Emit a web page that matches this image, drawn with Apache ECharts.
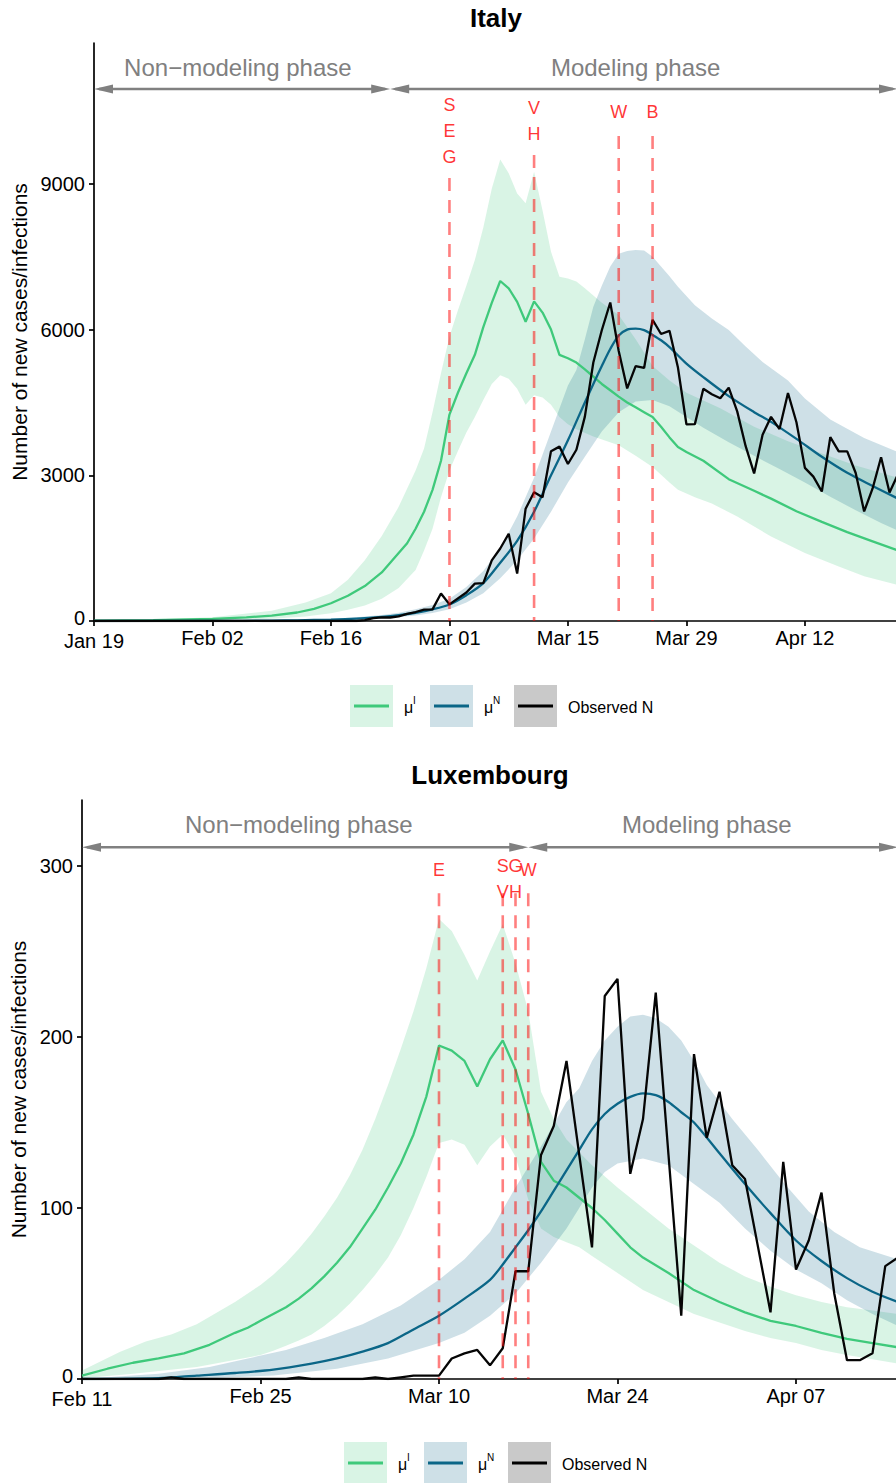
<!DOCTYPE html>
<html><head><meta charset="utf-8">
<script src="https://cdn.jsdelivr.net/npm/echarts@6/dist/echarts.min.js"></script>
<style>html,body{margin:0;padding:0;background:#fff}#c{width:896px;height:1483px}</style>
</head><body><div id="c"></div>
<script>
// ================= ITALY (day 0 = Jan 19, 2020) =================
const italyXTicks = ['Jan 19','Feb 02','Feb 16','Mar 01','Mar 15','Mar 29','Apr 12'];
const italyYTicks = [0, 3000, 6000, 9000];
// observed new cases, one value per day starting at day 0
const italyObs = [0,0,0,0,0,0,0,0,0,0,0,0,2,0,0,0,0,0,0,1,0,0,0,0,0,0,0,0,0,0,0,0,
  17,59,76,72,94,147,185,234,240,566,342,466,587,769,778,1247,1492,1797,977,2313,2651,2547,
  3497,3590,3233,3526,4207,5322,5986,6557,5560,4789,5249,5210,6203,5909,5974,5217,4050,4053,
  4782,4668,4585,4805,4316,3599,3039,3836,4204,3951,4694,4092,3153,2972,2667,3786,3493,3491,
  3047,2256,2729,3370,2646,3021];
// mu^I : [day, value]
const italyMuI = [[0,5],[7,15],[14,45],[18,75],[21,110],[24,175],[26,250],[28,365],[30,520],[32,720],[34,1000],[36,1400],[37,1600],[38,1900],[39,2250],[40,2700],[41,3300],[42,4250],[43,4700],[44,5100],[45,5480],[46,6050],[47,6550],[48,7000],[49,6850],[50,6570],[51,6160],[52,6580],[53,6350],[54,6000],[55,5480],[56,5410],[57,5320],[58,5180],[59,5030],[60,4880],[61,4750],[62,4620],[63,4500],[64,4400],[65,4300],[66,4200],[67,4000],[68,3780],[69,3580],[70,3480],[72,3300],[75,2920],[78,2680],[80,2520],[83,2260],[86,2040],[89,1830],[92,1640],[95,1450]];
const italyMuIUpper = [[0,10],[7,30],[14,75],[21,210],[25,380],[28,570],[30,850],[32,1250],[34,1750],[36,2350],[38,3100],[39,3550],[40,4300],[41,5100],[42,5850],[43,6400],[44,6900],[45,7430],[46,8100],[47,8900],[48,9500],[49,9220],[50,8800],[51,8600],[52,9250],[53,8450],[54,7600],[55,7090],[56,7050],[57,6990],[58,6850],[59,6700],[60,6550],[62,6300],[64,5800],[66,5250],[68,4950],[70,4700],[74,4380],[78,4000],[82,3700],[86,3450],[90,3200],[95,2950]];
const italyMuILower = [[0,1],[7,4],[14,12],[21,45],[25,95],[28,160],[30,230],[32,320],[34,460],[36,680],[38,1050],[39,1450],[40,1900],[41,2550],[42,3100],[43,3500],[44,3880],[45,4200],[46,4550],[47,4880],[48,5060],[49,4990],[50,4780],[51,4450],[52,4650],[53,4600],[54,4450],[55,4200],[56,4050],[57,3950],[59,3800],[62,3620],[64,3400],[66,3170],[68,2850],[69,2700],[71,2550],[73,2420],[76,2150],[80,1740],[84,1400],[88,1120],[91,920],[95,740]];
// mu^N
const italyMuN = [[0,0],[14,2],[21,8],[24,14],[28,30],[31,50],[34,85],[36,120],[38,170],[40,240],[42,340],[44,530],[46,780],[48,1200],[50,1650],[52,2250],[54,3000],[56,3720],[58,4500],[59,4880],[60,5250],[61,5600],[62,5880],[63,6000],[64,6020],[65,5990],[66,5890],[67,5780],[68,5640],[70,5300],[72,5020],[75,4630],[78,4300],[80,4100],[83,3750],[86,3380],[89,3050],[92,2780],[95,2520]];
const italyMuNUpper = [[0,0],[14,5],[21,15],[28,45],[31,75],[34,125],[36,170],[38,240],[40,330],[42,460],[44,700],[46,1030],[48,1500],[50,2150],[52,2950],[54,3900],[56,4850],[57,5170],[58,5800],[59,6470],[60,6900],[61,7300],[62,7560],[63,7620],[64,7640],[65,7630],[66,7500],[67,7300],[68,7100],[69,6880],[71,6500],[73,6230],[75,5990],[77,5650],[79,5330],[82,4950],[84,4580],[87,4150],[91,3770],[95,3480]];
const italyMuNLower = [[0,0],[14,1],[21,4],[28,18],[31,30],[34,55],[36,80],[38,115],[40,165],[42,240],[44,380],[46,570],[48,880],[50,1250],[52,1700],[54,2250],[56,2850],[58,3380],[60,3900],[62,4300],[64,4520],[66,4550],[68,4420],[70,4200],[72,3980],[75,3680],[78,3400],[81,3130],[84,2850],[87,2560],[90,2280],[93,2020],[95,1860]];
const italyEventDays = [42, 52, 62, 66];
const italyEventLabels = ['S\nE\nG', 'V\nH', 'W', 'B'];
const italyPhaseDays = [0, 35, 95];          // start, split, end
const italyPhaseTexts = ['Non\u2212modeling phase', 'Modeling phase'];

// ================= LUXEMBOURG (day 0 = Feb 11, 2020) =================
const luxXTicks = ['Feb 11','Feb 25','Mar 10','Mar 24','Apr 07'];
const luxYTicks = [0, 100, 200, 300];
const luxObs = [0,0,0,0,0,0,0,1,0,0,0,0,0,0,0,0,0,1,0,0,0,0,0,1,0,1,2,2,2,
  12,15,17,8,18,63,63,131,148,186,131,77,224,234,120,152,226,131,37,190,141,168,125,117,78,39,
  127,64,81,109,50,11,11,15,66,71];
const luxMuI = [[0,2],[2,6],[4,9.5],[6,12],[8,15],[10,20],[12,27],[13,30],[14,34],[15,38],[16,42],[17,47],[18,53],[19,60],[20,68],[21,77],[22,88],[23,99],[24,112],[25,126],[26,143],[27,165],[28,195],[29,192],[30,186],[31,171],[32,187],[33,198],[34,181],[35,155],[36,127],[37,116],[38,112],[39,106],[40,100],[41,93],[42,85],[43,77],[44,71],[46,62],[48,52],[50,45],[52,39],[54,34],[56,31],[58,27],[60,23.5],[62,21],[64,18.5]];
const luxMuIUpper = [[0,5],[3,16],[5,22],[7,26],[9,32],[12,45],[14,55],[15,61],[16,68],[17,76],[18,85],[19,95],[20,106],[21,119],[22,134],[23,152],[24,172],[25,193],[26,215],[27,240],[28,269],[29,262],[30,248],[31,233],[32,250],[33,266],[34,243],[35,215],[36,168],[37,152],[38,140],[40,125],[42,112],[44,100],[46,88],[48,78],[50,68],[52,60],[54,54],[56,49],[58,45],[60,42],[62,40],[64,38]];
const luxMuILower = [[0,0.5],[4,3],[9,7],[14,14],[15,16.5],[16,19.5],[17,22.5],[18,26],[19,31],[20,37],[21,44],[22,52],[23,61],[24,71],[25,84],[26,100],[27,118],[28,138],[29,140],[30,137],[31,125],[32,136],[33,143],[34,130],[35,105],[36,88],[37,83],[38,80],[39,77],[40,72],[42,62],[44,52],[46,45],[48,38],[50,33],[52,28],[54,24],[56,21],[58,17],[60,14],[62,11.5],[64,9]];
const luxMuN = [[0,0],[6,0.5],[9,2],[12,3.5],[15,5.5],[18,9],[20,12],[22,16],[24,21],[26,29],[28,37],[30,47],[32,58],[33,67],[34,77],[35,87],[36,98],[37,110],[38,122],[39,134],[40,146],[41,155],[42,161],[43,165],[44,167],[45,166],[46,162],[47,156],[48,150],[50,132],[52,114],[54,97],[56,81],[58,69],[60,59],[62,51],[64,45]];
const luxMuNUpper = [[0,0],[6,3],[10,7],[13,12],[16,17],[19,24],[22,32],[25,43],[28,58],[30,70],[32,86],[34,112],[36,136],[38,162],[39,170],[40,186],[41,198],[42,206],[43,212],[44,213],[45,211],[46,206],[47,198],[48,186],[49,172],[51,152],[53,134],[55,115],[57,98],[59,86],[61,77],[64,70]];
const luxMuNLower = [[0,0],[10,0.5],[15,2],[20,6],[24,12],[28,21],[30,27],[32,37],[34,50],[36,68],[38,88],[40,112],[41,121],[42,126],[44,129],[46,125],[48,114],[50,103],[52,88],[54,75],[56,64],[58,56],[60,46],[62,38],[64,31]];
const luxEventDays = [28, 33, 34, 35];
const luxEventLabels = ['E', 'S\nV', 'G\nH', 'W'];
const luxPhaseDays = [0, 35, 64];
const luxPhaseTexts = ['Non\u2212modeling phase', 'Modeling phase'];

// ================= styling / layout =================
const FONT = '"Liberation Sans", Arial, Helvetica, sans-serif';
const GREEN = '#3fc97b', GREEN_FILL = 'rgba(63,201,123,0.2)';
const BLUE = '#0b6687', BLUE_FILL = 'rgba(11,102,135,0.2)';
const OBS = '#050505';
const RED_DASH = 'rgba(255,0,0,0.5)';
const GRAY = '#808080';

const panels = [
  {name:'Italy', xTicks: italyXTicks, yTicks: italyYTicks, xMax: 95, yMax: 11900, yInt: 3000,
   grid:{left:94, top:43, width:804, height:578}, titleX:496, titleY:5, nameGap:62,
   obs: italyObs, muI: italyMuI, muIU: italyMuIUpper, muIL: italyMuILower,
   muN: italyMuN, muNU: italyMuNUpper, muNL: italyMuNLower,
   evDays: italyEventDays, evLabels: italyEventLabels,
   evLabelY: [10089, 10295, 10480, 10480], evLineTop: [9122, 9595, 9986, 9986],
   phase: italyPhaseDays, phaseTexts: italyPhaseTexts, phaseTextDays: [17, 64],
   arrowY: 10955, phaseTextY: 11400, legendX: 350, legendY: 685},
  {name:'Luxembourg', xTicks: luxXTicks, yTicks: luxYTicks, xMax: 64, yMax: 338.6, yInt: 100,
   grid:{left:82, top:800, width:816, height:579}, titleX:490, titleY:762, nameGap:50,
   obs: luxObs, muI: luxMuI, muIU: luxMuIUpper, muIL: luxMuILower,
   muN: luxMuN, muNU: luxMuNUpper, muNL: luxMuNLower,
   evDays: luxEventDays, evLabels: luxEventLabels,
   evLabelY: [297.7, 292.4, 292.4, 297.7], evLineTop: [284, 284, 284, 284],
   phase: luxPhaseDays, phaseTexts: luxPhaseTexts, phaseTextDays: [17, 49],
   arrowY: 311, phaseTextY: 324.5, legendX: 344, legendY: 1442}
];

const option = {
  animation: false, backgroundColor: '#fff',
  textStyle: {fontFamily: FONT},
  title: [], grid: [], xAxis: [], yAxis: [], series: [], graphic: []
};

function band(gi, up, lo, fill, z) {
  return {type:'custom', xAxisIndex:gi, yAxisIndex:gi, z, silent:true, clip:false,
    data:[[0,0]],
    renderItem: (params, api) => {
      const pts = up.map(p => api.coord(p)).concat(lo.slice().reverse().map(p => api.coord(p)));
      return {type:'polygon', shape:{points:pts}, style:{fill:fill, stroke:null}};
    }};
}
function line(gi, data, color, z, smooth) {
  return {type:'line', xAxisIndex:gi, yAxisIndex:gi, z, data, showSymbol:false, symbol:'none',
    silent:true, smooth: smooth || false, lineStyle:{color, width:2.3}, itemStyle:{color}};
}
function arrowHead(tip, dir) {
  const L = 19, W = 4.5;
  return {type:'polygon', shape:{points:[[tip[0], tip[1]], [tip[0]-dir*L, tip[1]-W], [tip[0]-dir*L, tip[1]+W]]},
    style:{fill:GRAY}};
}

panels.forEach((p, gi) => {
  option.title.push({text:p.name, left:p.titleX, top:p.titleY, textAlign:'center', padding:0,
    textStyle:{fontFamily:FONT, fontSize:26, fontWeight:'bold', color:'#000'}});
  option.grid.push(Object.assign({outerBoundsMode:'none', containLabel:false}, p.grid));
  const xVals = p.xTicks.map((t, i) => i * 14);
  option.xAxis.push({gridIndex:gi, type:'value', min:0, max:p.xMax, interval:14,
    axisLine:{show:true, onZero:false, lineStyle:{color:'#000', width:1.7}},
    axisTick:{show:true, length:5, customValues:xVals, lineStyle:{color:'#000', width:1.7}},
    axisLabel:{customValues:xVals, fontSize:20, lineHeight:16, color:'#000', margin:9, fontFamily:FONT,
      // first label nudged a few px down so it does not collide with the y-axis "0"
      formatter: v => (v === 0 ? '{f|' + p.xTicks[0] + '}' : (p.xTicks[Math.round(v / 14)] || '')),
      rich:{f:{fontSize:20, lineHeight:16, padding:[5, 0, 0, 0], color:'#000', fontFamily:FONT}}},
    splitLine:{show:false}});
  option.yAxis.push({gridIndex:gi, type:'value', min:0, max:p.yMax, interval:p.yInt,
    name:'Number of new cases/infections', nameLocation:'middle', nameGap:p.nameGap, nameRotate:90,
    nameTextStyle:{fontSize:21, color:'#000', fontFamily:FONT},
    axisLine:{show:true, lineStyle:{color:'#000', width:1.7}},
    axisTick:{show:true, length:5, customValues:p.yTicks, lineStyle:{color:'#000', width:1.7}},
    axisLabel:{customValues:p.yTicks, fontSize:20, lineHeight:14, color:'#000', margin:9, fontFamily:FONT,
      formatter: v => (v === 0 ? '{z|0}' : (p.yTicks.indexOf(v) >= 0 ? String(v) : '')),
      rich:{z:{fontSize:20, lineHeight:14, padding:[0, 0, 7, 0], color:'#000', fontFamily:FONT}}},
    splitLine:{show:false}});

  option.series.push(band(gi, p.muIU, p.muIL, GREEN_FILL, 1));
  option.series.push(band(gi, p.muNU, p.muNL, BLUE_FILL, 2));
  option.series.push(line(gi, p.muI, GREEN, 3, false));
  option.series.push(line(gi, p.muN, BLUE, 4, 0.3));
  option.series.push(line(gi, p.obs.map((v, i) => [i, v]), OBS, 5, false));

  p.evDays.forEach((d, i) => {
    option.series.push({type:'line', xAxisIndex:gi, yAxisIndex:gi, z:6, silent:true,
      showSymbol:false, symbol:'none', data:[[d, p.evLineTop[i]], [d, 0]],
      lineStyle:{color:RED_DASH, width:2.6, type:[13, 9]}});
  });
  option.series.push({type:'scatter', xAxisIndex:gi, yAxisIndex:gi, z:7, silent:true,
    symbolSize:1, itemStyle:{color:'rgba(0,0,0,0)'},
    data: p.evDays.map((d, i) => ({value:[d, p.evLabelY[i]], name:p.evLabels[i]})),
    label:{show:true, position:'inside', formatter:'{b}', color:'#ff0000', fontSize:18,
      lineHeight:26, fontFamily:FONT}});

  // phase arrows + texts
  option.series.push({type:'custom', xAxisIndex:gi, yAxisIndex:gi, z:8, silent:true, clip:false,
    data:[[p.phase[0], p.arrowY]],
    renderItem: (params, api) => {
      const a = api.coord([p.phase[0], p.arrowY]);
      const m = api.coord([p.phase[1], p.arrowY]);
      const b = api.coord([p.phase[2], p.arrowY]);
      const t1 = api.coord([p.phaseTextDays[0], p.phaseTextY]);
      const t2 = api.coord([p.phaseTextDays[1], p.phaseTextY]);
      const ls = {stroke:GRAY, lineWidth:2.5};
      return {type:'group', children:[
        {type:'line', shape:{x1:a[0]+5, y1:a[1], x2:m[0]-5, y2:m[1]}, style:ls},
        {type:'line', shape:{x1:m[0]+5, y1:m[1], x2:b[0]-5, y2:b[1]}, style:ls},
        arrowHead(a, -1), arrowHead(m, 1), arrowHead(m, -1), arrowHead(b, 1),
        {type:'text', x:t1[0], y:t1[1], style:{text:p.phaseTexts[0], fill:GRAY, font:'24px ' + FONT,
          align:'center', verticalAlign:'middle', textAlign:'center', textVerticalAlign:'middle'}},
        {type:'text', x:t2[0], y:t2[1], style:{text:p.phaseTexts[1], fill:GRAY, font:'24px ' + FONT,
          align:'center', verticalAlign:'middle', textAlign:'center', textVerticalAlign:'middle'}}
      ]};
    }});

  // legend (key boxes drawn like ggplot keys)
  const lx = p.legendX, ly = p.legendY, cy = ly + 21;
  const keys = [
    {fill:'#d9f4e5', stroke:GREEN, x:lx, label:'\u03bc', sup:'I', tx:lx + 54},
    {fill:'#cee0e7', stroke:BLUE, x:lx + 80, label:'\u03bc', sup:'N', tx:lx + 134},
    {fill:'#c9c9c9', stroke:'#000', x:lx + 164, label:'Observed N', sup:'', tx:lx + 218}
  ];
  keys.forEach(k => {
    option.graphic.push({type:'rect', shape:{x:k.x, y:ly, width:43, height:42}, style:{fill:k.fill}, silent:true});
    option.graphic.push({type:'line', shape:{x1:k.x + 4, y1:cy, x2:k.x + 39, y2:cy}, style:{stroke:k.stroke, lineWidth:3}, silent:true});
    option.graphic.push({type:'text', x:k.tx, y:cy + 1, style:{text:k.label, fill:'#000', font:'16px ' + FONT,
      align:'left', verticalAlign:'middle', textAlign:'left', textVerticalAlign:'middle'}, silent:true});
    if (k.sup) option.graphic.push({type:'text', x:k.tx + 9, y:cy - 6, style:{text:k.sup, fill:'#000', font:'10px ' + FONT,
      align:'left', verticalAlign:'middle', textAlign:'left', textVerticalAlign:'middle'}, silent:true});
  });
});

const chart = echarts.init(document.getElementById('c'), null, {renderer:'svg', width:896, height:1483});
chart.setOption(option);
</script></body></html>
